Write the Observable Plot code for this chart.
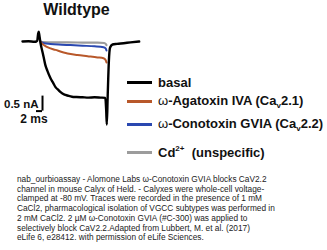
<!DOCTYPE html>
<html>
<head>
<meta charset="utf-8">
<script src="https://cdn.jsdelivr.net/npm/d3@7"></script>
<script src="https://cdn.jsdelivr.net/npm/@observablehq/plot@0.6"></script>
<style>
  html, body { margin: 0; padding: 0; background: #fff; }
  #wrap { position: relative; width: 327px; height: 250px; overflow: hidden; font-family: "Liberation Sans", Arial, sans-serif; }
  #title { position: absolute; left: 0; width: 153px; top: 1px; text-align: center; font-weight: bold; font-size: 16px; color: #111; }
  #chart { position: absolute; left: 0; top: 0; }
  .leg { position: absolute; left: 127px; height: 20px; display: flex; align-items: center; font-weight: bold; font-size: 13px; color: #111; white-space: nowrap; }
  .leg .sw { width: 25px; height: 3px; margin-right: 6px; }
  .leg sub { font-size: 8px; vertical-align: -3px; }
  .leg sup { font-size: 8px; vertical-align: 6px; }
  .omega { font-weight: normal; }
  #caption { position: absolute; left: 17px; top: 175px; font-family: "Liberation Sans", Arial, sans-serif; font-size: 8.3px; line-height: 9.7px; color: #222; white-space: nowrap; }
</style>
</head>
<body>
<div id="wrap">
  <div id="chart"></div>
  <div id="title"></div>
  <div id="legend"></div>
  <div id="caption"></div>
</div>
<script>
// ---- Data (time in ms, current in nA) ----
const basalT = [0, 2, 4, 4.6, 4.9, 5.2, 5.4, 5.7, 6.0, 6.5, 7.0, 7.6, 8.3, 9.3, 10.2, 11, 12, 12.7, 14, 15, 16.5, 18, 20, 22, 24, 26, 27.6, 27.9, 28.1, 28.4, 28.8, 29.2, 30, 31.5, 33.7, 36, 38.9];
const basalI = [0, 0.01, -0.01, 0, 0.02, 0.25, 0.33, 0.15, -0.05, -0.28, -0.5, -0.78, -0.98, -1.22, -1.38, -1.52, -1.62, -1.69, -1.77, -1.8, -1.84, -1.85, -1.86, -1.87, -1.86, -1.87, -1.88, -2.3, -2.77, -1.8, -0.63, -0.2, -0.1, -0.08, -0.057, -0.03, 0];

const agaT = [6.0, 6.5, 7.3, 8.3, 11, 15, 18.3, 21.7, 25, 27, 27.7, 28.0];
const agaI = [0, -0.07, -0.13, -0.19, -0.28, -0.4, -0.45, -0.49, -0.53, -0.56, -0.62, -0.7];

const conoT = [6.0, 6.5, 7.3, 9.3, 12, 16, 20, 24, 27, 27.7, 28.0];
const conoI = [0, -0.03, -0.06, -0.08, -0.1, -0.12, -0.14, -0.16, -0.19, -0.23, -0.3];

const cdT = [6.0, 7, 10, 15, 20, 25, 27.2, 27.8, 28.0];
const cdI = [0, -0.02, -0.03, -0.03, -0.035, -0.04, -0.05, -0.09, -0.12];

const seriesNames = ["basal", "ω-Agatoxin IVA (Cav2.1)", "ω-Conotoxin GVIA (Cav2.2)", "Cd2+ (unspecific)"];
const seriesColors = ["#000000", "#b8582a", "#2a48b0", "#9c9c9c"];

const scaleBarMs = 2;
const scaleBarNA = 0.5;
const scaleCornerT = 6.67;
const scaleCornerI = -2.32;

const titleText = "Wildtype";
const captionLines = [
  "nab_ourbioassay - Alomone Labs ω-Conotoxin GVIA blocks CaV2.2",
  "channel in mouse Calyx of Held. - Calyxes were whole-cell voltage-",
  "clamped at -80 mV. Traces were recorded in the presence of 1 mM",
  "CaCl2, pharmacological isolation of VGCC subtypes was performed in",
  "2 mM CaCl2. 2 µM ω-Conotoxin GVIA (#C-300) was applied to",
  "selectively block CaV2.2.Adapted from Lubbert, M. et al. (2017)",
  "eLife 6, e28412. with permission of eLife Sciences."
];

// ---- Build tables ----
const toRows = (T, I) => T.map((t, k) => ({t, i: I[k]}));
const basal = toRows(basalT, basalI);
const aga = toRows(agaT, agaI);
const cono = toRows(conoT, conoI);
const cd = toRows(cdT, cdI);

const W = 327, H = 170;
const pxPerMs = 3, pxPerNA = 30, x0px = 22, y0px = 41;

const chart = Plot.plot({
  width: W, height: H,
  marginTop: 0, marginRight: 0, marginBottom: 0, marginLeft: 0,
  style: {background: "transparent", overflow: "visible"},
  x: {domain: [-x0px / pxPerMs, (W - x0px) / pxPerMs], axis: null},
  y: {domain: [(y0px - H) / pxPerNA, y0px / pxPerNA], axis: null},
  marks: [
    Plot.line(cd, {x: "t", y: "i", stroke: seriesColors[3], strokeWidth: 2.2, curve: "monotone-x"}),
    Plot.line(cono, {x: "t", y: "i", stroke: seriesColors[2], strokeWidth: 2, curve: "monotone-x"}),
    Plot.line(aga, {x: "t", y: "i", stroke: seriesColors[1], strokeWidth: 2, curve: "monotone-x"}),
    Plot.line(basal, {x: "t", y: "i", stroke: seriesColors[0], strokeWidth: 2.4, curve: "monotone-x"}),
    // scale bar
    Plot.ruleX([scaleCornerT], {y1: scaleCornerI, y2: scaleCornerI + scaleBarNA, stroke: "#000", strokeWidth: 2}),
    Plot.ruleY([scaleCornerI], {x1: scaleCornerT - scaleBarMs, x2: scaleCornerT, stroke: "#000", strokeWidth: 2}),
    Plot.text([`${scaleBarNA} nA`], {x: scaleCornerT, y: scaleCornerI + scaleBarNA / 2, dx: -4, dy: 1, textAnchor: "end", fontWeight: "bold", fontSize: 11.5, fontFamily: "Liberation Sans, Arial, sans-serif", fill: "#111"}),
    Plot.text([`${scaleBarMs} ms`], {x: scaleCornerT - scaleBarMs / 2, y: scaleCornerI, dx: -5.5, dy: 8, textAnchor: "middle", fontWeight: "bold", fontSize: 12, fontFamily: "Liberation Sans, Arial, sans-serif", fill: "#111"})
  ]
});
document.getElementById("chart").appendChild(chart);

document.getElementById("title").textContent = titleText;

// legend (HTML)
const legTops = [72, 91, 114, 142];
const legHTML = [
  "basal",
  '<span class="omega">ω</span>-Agatoxin IVA (Ca<sub>v</sub>2.1)',
  '<span class="omega">ω</span>-Conotoxin GVIA (Ca<sub>v</sub>2.2)',
  'Cd<sup>2+</sup>&nbsp;&nbsp;(unspecific)'
];
const leg = document.getElementById("legend");
seriesNames.forEach((name, k) => {
  const d = document.createElement("div");
  d.className = "leg";
  d.style.top = legTops[k] + "px";
  d.title = name;
  d.innerHTML = `<span class="sw" style="background:${seriesColors[k]}"></span><span>${legHTML[k]}</span>`;
  leg.appendChild(d);
});

const cap = document.getElementById("caption");
captionLines.forEach(l => {
  const d = document.createElement("div");
  d.textContent = l;
  cap.appendChild(d);
});
</script>
</body>
</html>
